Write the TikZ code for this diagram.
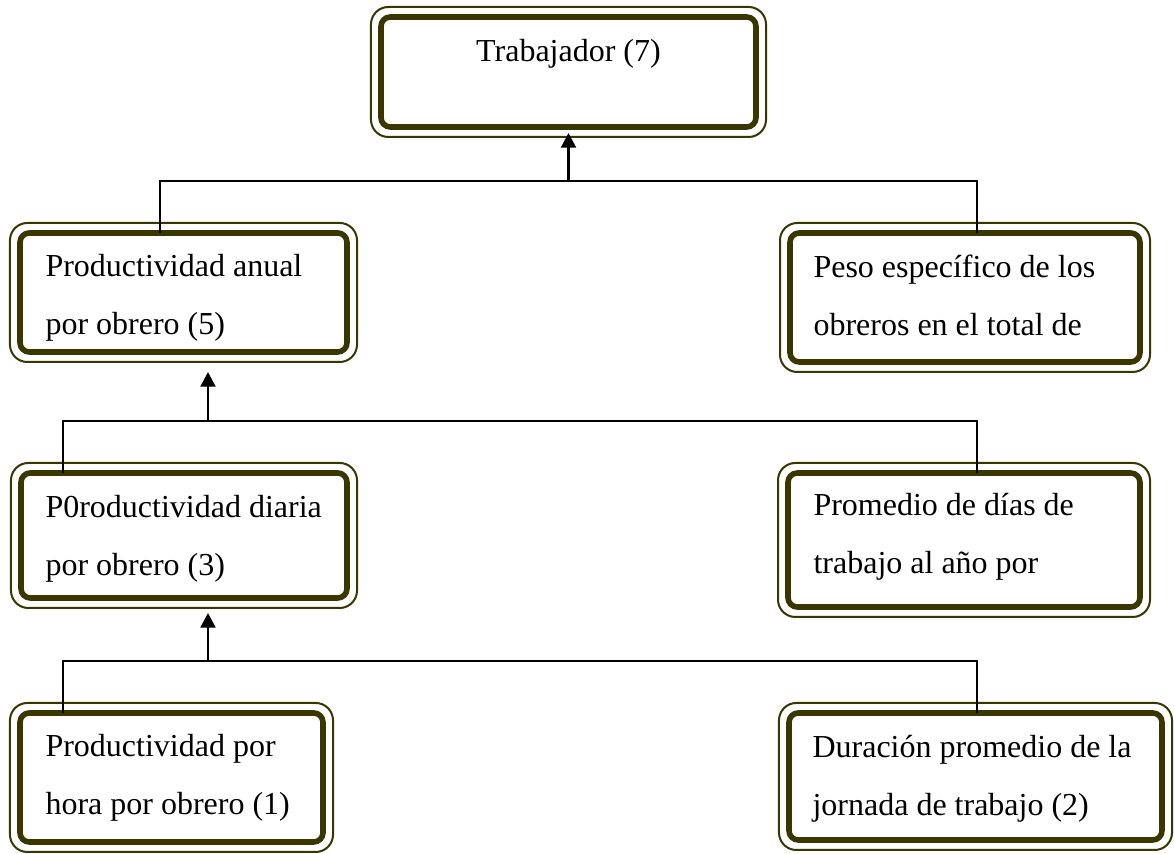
\documentclass[tikz,border=0pt]{standalone}
\usepackage{fontspec}
\setmainfont{Liberation Serif}
\usetikzlibrary{
    arrows.meta,
    positioning
}
\definecolor{oliva}{RGB}{58,54,0}
\tikzset{
    caja/.style={draw=oliva, line width=2.1pt, rounded corners=3.5pt, inner sep=0pt, outer sep=0pt},
    marco/.style={draw=oliva, line width=.75pt, rounded corners=6.5pt},
    texto/.style={anchor=base west, align=left, inner sep=0pt, font=\fontsize{12pt}{21.75pt}\selectfont},
    linea/.style={line width=.6pt},
    flecha/.style={line width=1.1pt, -{Triangle[length=5.5pt,width=5.5pt]}}
}

\begin{document}
\begin{tikzpicture}[x=0.375pt, y=-0.375pt]
    \useasboundingbox (0,0) rectangle (1174,854);

    % cajas
    \node[caja, minimum width=140.63pt, minimum height=41.25pt] (trab) at (568.5,72) {};
    \node[caja, minimum width=122.63pt, minimum height=44.63pt] (pa) at (183.5,292.5) {};
    \node[caja, minimum width=131.25pt, minimum height=48.38pt] (pe) at (965,297.5) {};
    \node[caja, minimum width=122.25pt, minimum height=46.88pt] (pd) at (184,535.5) {};
    \node[caja, minimum width=132pt, minimum height=50.25pt] (pr) at (964,540) {};
    \node[caja, minimum width=113.63pt, minimum height=48.38pt] (ph) at (171.5,777.5) {};
    \node[caja, minimum width=139.88pt, minimum height=47.63pt] (dj) at (975.5,776.5) {};
    \foreach \n in {trab,pa,pe,pd,pr,ph,dj}
        \draw[marco] ([shift={(-3.75pt,3.75pt)}]\n.north west) rectangle ([shift={(3.75pt,-3.75pt)}]\n.south east);

    % textos (base = ultima linea)
    \node[texto, anchor=base] (trabt) at (568.5,62) {Trabajador (7)};
    \node[texto] (pat) at (45,335) {Productividad anual\\por obrero (5)};
    \node[texto] (pet) at (813,336) {Peso específico de los\\obreros en el total de};
    \node[texto] (pdt) at (45,576) {P0roductividad diaria\\por obrero (3)};
    \node[texto] (prt) at (813,574) {Promedio de días de\\trabajo al año por};
    \node[texto] (pht) at (45,815) {Productividad por\\hora por obrero (1)};
    \node[texto] (djt) at (812,816) {Duración promedio de la\\jornada de trabajo (2)};

    % conectores
    \coordinate (b1i) at (160,181);
    \coordinate (b1d) at (977,181);
    \coordinate (b2i) at (63,421);
    \coordinate (b2d) at (977,421);
    \coordinate (b3i) at (63,661);
    \coordinate (b3d) at (977,661);
    \coordinate (f2) at (208,421);
    \coordinate (f3) at (208,661);

    \draw[linea] (b1i |- pa.north) -- (b1i) -- (b1d) -- (b1d |- pe.north);
    \draw[linea] (b2i |- pd.north) -- (b2i) -- (b2d) -- (b2d |- pr.north);
    \draw[linea] (b3i |- ph.north) -- (b3i) -- (b3d) -- (b3d |- dj.north);

    \draw[flecha, shorten >=2.25pt] (trab.south |- b1i) -- (trab.south);
    \draw[flecha, shorten >=7.5pt] (f2) -- (f2 |- pa.south);
    \draw[flecha, shorten >=5.6pt] (f3) -- (f3 |- pd.south);
\end{tikzpicture}
\end{document}
